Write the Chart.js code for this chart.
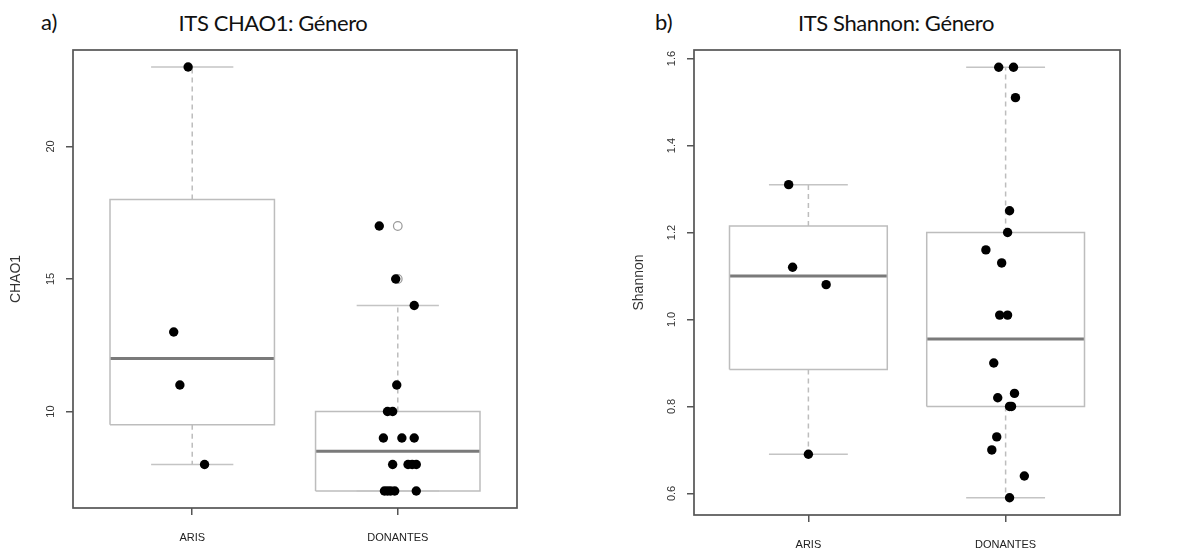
<!DOCTYPE html>
<html>
<head>
<meta charset="utf-8">
<script src="https://cdn.jsdelivr.net/npm/chart.js@4/dist/chart.umd.min.js"></script>
<style>
  body { margin: 0; background: #fff; width: 1201px; height: 552px; overflow: hidden; position: relative; font-family: Lato, "Open Sans", sans-serif; }
  .panel { position: absolute; top: 0; }
  .txt { position: absolute; font-size: 22px; line-height: 26px; color: #111; white-space: pre; }
  .tit { text-align: center; width: 260px; letter-spacing: -0.4px; }
</style>
</head>
<body>
<div class="txt" style="left:41px;top:9px">a)</div>
<div class="txt tit" style="left:143px;top:10px">ITS CHAO1: Género</div>
<div class="txt" style="left:655px;top:9px">b)</div>
<div class="txt tit" style="left:766px;top:10px">ITS Shannon: Género</div>

<div class="panel" style="left:0"><canvas id="chao" width="600" height="552"></canvas></div>
<div class="panel" style="left:600px"><canvas id="shannon" width="601" height="552"></canvas></div>

<script>
// grupos del eje x
const grupos = ['ARIS', 'DONANTES'];

// CHAO1 por muestra (y desplazamiento horizontal del stripchart, en unidades de grupo)
const chaoAris = [23, 13, 11, 8];
const chaoArisJit = [-0.02, -0.09, -0.06, 0.06];
const chaoDon = [17, 15, 14, 11, 10, 10, 9, 9, 9, 8, 8, 8, 8, 7, 7, 7, 7, 7];
const chaoDonJit = [-0.09, -0.01, 0.08, -0.005, -0.05, -0.025, -0.07, 0.02, 0.08,
                    -0.025, 0.05, 0.07, 0.09, -0.065, -0.05, -0.035, -0.015, 0.09];
const chaoTicks = [10, 15, 20];

// Shannon por muestra
const shanAris = [1.31, 1.12, 1.08, 0.69];
const shanArisJit = [-0.1, -0.08, 0.09, 0];
const shanDon = [1.58, 1.58, 1.51, 1.25, 1.20, 1.16, 1.13, 1.01, 1.01, 0.90,
                 0.83, 0.82, 0.80, 0.80, 0.73, 0.70, 0.64, 0.59];
const shanDonJit = [-0.035, 0.04, 0.05, 0.02, 0.01, -0.1, -0.02, -0.03, 0.01, -0.06,
                    0.045, -0.04, 0.02, 0.03, -0.045, -0.07, 0.095, 0.02];
const shanTicks = [0.6, 0.8, 1.0, 1.2, 1.4, 1.6];

const fuente = 'Liberation Sans, Arial, sans-serif';
const formatos = {chao: v => String(v), shannon: v => v.toFixed(1)};

// igual que fivenum() de R
function fivenum(v) {
    const s = [...v].sort((a, b) => a - b);
    const n = s.length;
    const n4 = Math.floor((n + 3) / 2) / 2;
    const d = [1, n4, (n + 1) / 2, n + 1 - n4, n];
    return d.map(i => 0.5 * (s[Math.floor(i) - 1] + s[Math.ceil(i) - 1]));
}

function linea(puntos, color, ancho, dash) {
    return {
        data: puntos, showLine: true, pointRadius: 0, borderColor: color,
        borderWidth: ancho, borderDash: dash || [], fill: false
    };
}

function armarDatasets(series, jits) {
    const puntos = [], cajas = [];
    series.forEach((vals, g) => {
        const c = g + 1;
        const [, q1, med, q3] = fivenum(vals);
        const iqr = q3 - q1;
        const dentro = vals.filter(v => v >= q1 - 1.5 * iqr && v <= q3 + 1.5 * iqr);
        const bajo = Math.min(...dentro), alto = Math.max(...dentro);
        const fuera = vals.filter(v => v < bajo || v > alto);

        cajas.push(linea([{x: c, y: q3}, {x: c, y: alto}], '#bdbdbd', 1.5, [5, 4]));
        cajas.push(linea([{x: c, y: q1}, {x: c, y: bajo}], '#bdbdbd', 1.5, [5, 4]));
        cajas.push(linea([{x: c - 0.2, y: alto}, {x: c + 0.2, y: alto}], '#c4c4c4', 1.5));
        cajas.push(linea([{x: c - 0.2, y: bajo}, {x: c + 0.2, y: bajo}], '#c4c4c4', 1.5));
        cajas.push(linea([{x: c - 0.4, y: q1}, {x: c + 0.4, y: q1}, {x: c + 0.4, y: q3},
                          {x: c - 0.4, y: q3}, {x: c - 0.4, y: q1}], '#bdbdbd', 1.5));
        cajas.push(linea([{x: c - 0.4, y: med}, {x: c + 0.4, y: med}], '#7a7a7a', 3));
        cajas.push({
            data: fuera.map(v => ({x: c, y: v})), pointRadius: 4.3, pointBorderWidth: 1.2,
            pointBackgroundColor: 'rgba(0,0,0,0)', pointBorderColor: '#9a9a9a'
        });

        puntos.push({
            data: vals.map((v, i) => ({x: c + jits[g][i], y: v})),
            pointRadius: 4.7, pointBackgroundColor: '#000', pointBorderColor: '#000', pointBorderWidth: 0
        });
    });
    return puntos.concat(cajas);
}

const marco = {
    id: 'marco',
    afterDraw(chart) {
        const {ctx, chartArea: a} = chart;
        const fmt = formatos[chart.canvas.id];
        ctx.save();
        ctx.strokeStyle = '#555';
        ctx.lineWidth = 1.7;
        ctx.strokeRect(a.left, a.top, a.right - a.left, a.bottom - a.top);
        // etiquetas del eje y giradas como en R
        const ys = chart.scales.y;
        ctx.fillStyle = '#333';
        ctx.font = '11px ' + fuente;
        ctx.textAlign = 'center';
        ctx.textBaseline = 'middle';
        ys.ticks.forEach(t => {
            ctx.save();
            ctx.translate(a.left - 22, ys.getPixelForValue(t.value));
            ctx.rotate(-Math.PI / 2);
            ctx.fillText(fmt(t.value), 0, 0);
            ctx.restore();
        });
        ctx.restore();
    }
};

function crearGrafico(id, series, jits, marcas, titulo, cfg) {
    const todos = series.flat();
    const lo = Math.min(...todos), hi = Math.max(...todos);
    const ext = (hi - lo) * 0.04;
    return new Chart(document.getElementById(id), {
        type: 'scatter',
        data: {datasets: armarDatasets(series, jits)},
        options: {
            responsive: false,
            animation: false,
            layout: {padding: {top: 50, right: cfg.derecha, left: 0, bottom: 0}},
            plugins: {legend: {display: false}, tooltip: {enabled: false}},
            scales: {
                x: {
                    type: 'linear', min: 0.42, max: 2.58,
                    afterBuildTicks: s => { s.ticks = grupos.map((g, i) => ({value: i + 1})); },
                    afterFit: s => { s.height = cfg.abajo; },
                    border: {display: false},
                    grid: {drawOnChartArea: false, drawTicks: true, tickLength: 7, color: '#555', lineWidth: 1.5},
                    ticks: {
                        callback: v => grupos[v - 1], padding: 16, maxRotation: 0,
                        color: '#222', font: {family: fuente, size: 11}
                    }
                },
                y: {
                    min: lo - ext, max: hi + ext,
                    afterBuildTicks: s => { s.ticks = marcas.map(v => ({value: v})); },
                    afterFit: s => { s.width = cfg.izquierda; },
                    border: {display: false},
                    grid: {drawOnChartArea: false, drawTicks: true, tickLength: 7, color: '#555', lineWidth: 1.5},
                    ticks: {display: false},
                    title: {
                        display: true, text: titulo, color: '#333',
                        font: {family: fuente, size: 14},
                        padding: {top: cfg.tituloPad, bottom: 0}
                    }
                }
            }
        },
        plugins: [marco]
    });
}

crearGrafico('chao', [chaoAris, chaoDon], [chaoArisJit, chaoDonJit], chaoTicks, 'CHAO1',
    {izquierda: 73, derecha: 83, abajo: 44, tituloPad: 8});
crearGrafico('shannon', [shanAris, shanDon], [shanArisJit, shanDonJit], shanTicks, 'Shannon',
    {izquierda: 94, derecha: 81, abajo: 37, tituloPad: 31});
</script>
</body>
</html>
